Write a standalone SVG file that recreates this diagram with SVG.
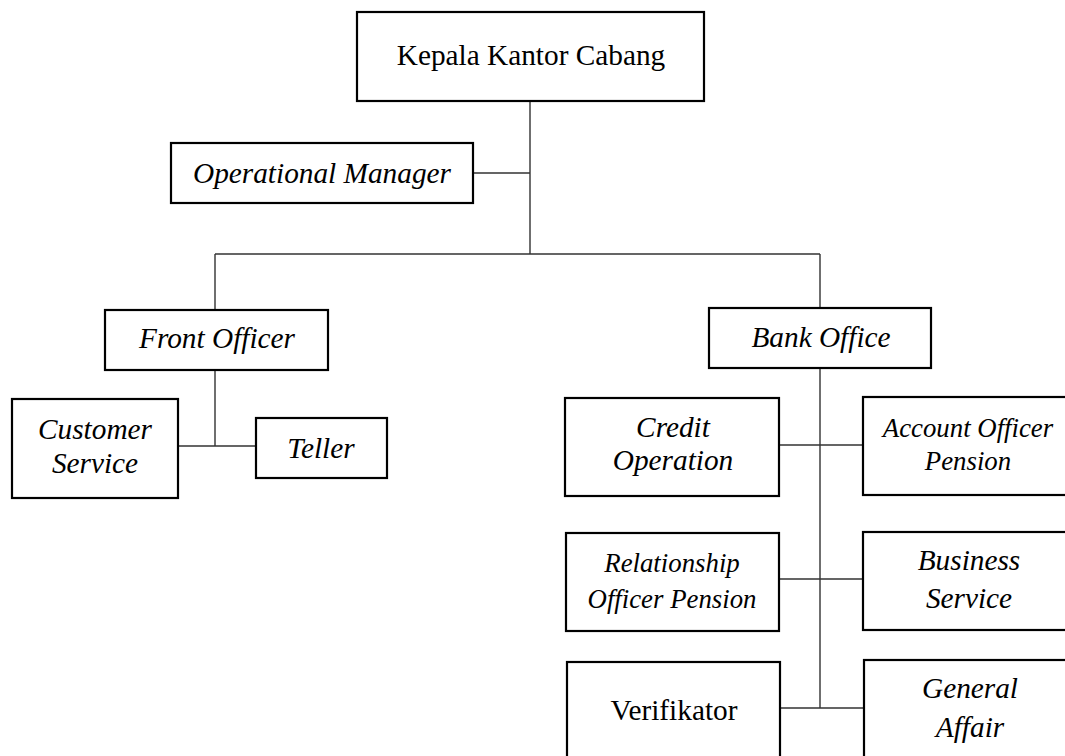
<svg xmlns="http://www.w3.org/2000/svg" width="1065" height="756" viewBox="0 0 1065 756">
<style>
.box{fill:#fff;stroke:#000;stroke-width:2.2}
.t{font-family:"Liberation Serif","Times New Roman",serif;font-size:29.3px;fill:#000;text-anchor:middle}
.i{font-style:italic}
.s{font-size:26.8px}
.c{fill:none;stroke:#333;stroke-width:1.4}
</style>
<rect width="1065" height="756" fill="#fff"/>
<g id="connectors">
<path class="c" d="M530 101V254M474 173H530M215 254H820M215 254V310M820 254V308M215 370V446M178 446H256M820 368V708M779 445H863M779 579H863M780 708H864"/>
</g>
<g id="kepala"><rect class="box" x="357" y="12" width="347" height="89"/><text class="t" x="531" y="65">Kepala Kantor Cabang</text></g>
<g id="opmgr"><rect class="box" x="171" y="143" width="302" height="60"/><text class="t i" x="322" y="183">Operational Manager</text></g>
<g id="front"><rect class="box" x="105" y="310" width="223" height="60"/><text class="t i" x="217" y="348">Front Officer</text></g>
<g id="cs"><rect class="box" x="12" y="399" width="166" height="99"/><text class="t i" x="95" y="439">Customer</text><text class="t i" x="95" y="473">Service</text></g>
<g id="teller"><rect class="box" x="256" y="418" width="131" height="60"/><text class="t i" x="321" y="458">Teller</text></g>
<g id="bank"><rect class="box" x="709" y="308" width="222" height="60"/><text class="t i" x="821" y="347">Bank Office</text></g>
<g id="credit"><rect class="box" x="565" y="398" width="214" height="98"/><text class="t i" x="673" y="437">Credit</text><text class="t i" x="673" y="470">Operation</text></g>
<g id="aop"><rect class="box" x="863" y="397" width="210" height="98"/><text class="t i s" x="968" y="437">Account Officer</text><text class="t i s" x="968" y="470">Pension</text></g>
<g id="rop"><rect class="box" x="566" y="533" width="213" height="98"/><text class="t i s" x="672" y="572">Relationship</text><text class="t i s" x="672" y="608">Officer Pension</text></g>
<g id="bs"><rect class="box" x="863" y="532" width="210" height="98"/><text class="t i" x="969" y="570">Business</text><text class="t i" x="969" y="608">Service</text></g>
<g id="verif"><rect class="box" x="567" y="662" width="213" height="110"/><text class="t" x="674" y="720">Verifikator</text></g>
<g id="ga"><rect class="box" x="864" y="660" width="210" height="110"/><text class="t i" x="970" y="698">General</text><text class="t i" x="970" y="737">Affair</text></g>
</svg>
